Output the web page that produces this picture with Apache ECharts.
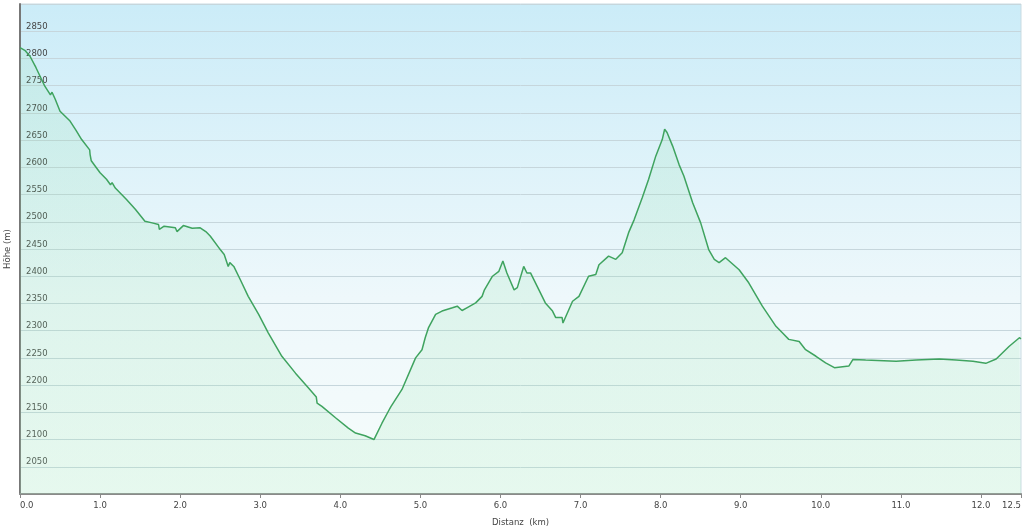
<!DOCTYPE html>
<html>
<head>
<meta charset="utf-8">
<script src="https://cdn.jsdelivr.net/npm/echarts@6/dist/echarts.min.js"></script>
<style>
  html, body { margin: 0; padding: 0; background: #fff; }
  #chart { width: 1024px; height: 527px; }
</style>
</head>
<body>
<div id="chart"></div>
<script>
// Höhenprofil: Distanz (km) / Höhe (m)
const distKm = [
  0.00, 0.06, 0.125, 0.2, 0.31, 0.38, 0.40, 0.44, 0.5, 0.625, 0.7, 0.77, 0.87, 0.875, 0.89, 0.94,
  1.0, 1.08, 1.13, 1.15, 1.19, 1.33, 1.44, 1.56, 1.65, 1.73, 1.74, 1.80, 1.94, 1.96,
  2.04, 2.15, 2.25, 2.32, 2.375, 2.48, 2.5, 2.55, 2.6, 2.62, 2.67, 2.75, 2.85, 2.98,
  3.1, 3.27, 3.44, 3.6, 3.7, 3.71, 3.77, 3.94,
  4.1, 4.19, 4.31, 4.42, 4.44, 4.52, 4.6, 4.63, 4.77, 4.94,
  5.02, 5.06, 5.1, 5.19, 5.27, 5.4, 5.46, 5.52, 5.58, 5.69, 5.77, 5.8, 5.9, 5.98,
  6.03, 6.08, 6.17, 6.21, 6.29, 6.33, 6.375, 6.48, 6.56, 6.65, 6.69, 6.77, 6.78, 6.9, 6.98,
  7.1, 7.19, 7.23, 7.35, 7.44, 7.52, 7.6, 7.67, 7.77, 7.85, 7.94,
  8.02, 8.05, 8.08, 8.15, 8.23, 8.29, 8.4, 8.5, 8.6, 8.67, 8.73, 8.81, 8.98,
  9.1, 9.27, 9.44, 9.52, 9.6, 9.73, 9.81, 9.94,
  10.06, 10.17, 10.35, 10.4, 10.56, 10.94, 11.19, 11.48, 11.69, 11.9,
  12.06, 12.19, 12.35, 12.48, 12.5
];
const elevM = [
  2820, 2815, 2804, 2783, 2749, 2733, 2738, 2725, 2703, 2685, 2668, 2651, 2632, 2624, 2612, 2602,
  2590, 2578, 2568, 2572, 2562, 2541, 2523, 2501, 2498, 2495, 2486, 2492, 2489, 2482,
  2493, 2488, 2489, 2482, 2474, 2453, 2449, 2440, 2418, 2425, 2418, 2394, 2363, 2330,
  2296, 2253, 2222, 2195, 2178, 2167, 2161, 2140,
  2121, 2112, 2107, 2100, 2098, 2130, 2152, 2160, 2192, 2250,
  2265, 2287, 2305, 2330, 2336, 2342, 2345, 2337, 2342, 2351, 2363, 2375, 2400, 2409,
  2428, 2406, 2375, 2379, 2418, 2406, 2406, 2375, 2351, 2336, 2324, 2324, 2314, 2354, 2363,
  2400, 2403, 2421, 2437, 2431, 2443, 2480, 2504, 2544, 2578, 2621,
  2651, 2670, 2664, 2639, 2605, 2584, 2535, 2498, 2449, 2431, 2425, 2434, 2412,
  2388, 2345, 2308, 2296, 2284, 2280, 2265, 2253,
  2241, 2232, 2235, 2247, 2246, 2244, 2246, 2248, 2246, 2244,
  2240, 2248, 2271, 2287, 2285
];
const xTicks = [0, 1, 2, 3, 4, 5, 6, 7, 8, 9, 10, 11, 12, 12.5];

const points = distKm.map((d, i) => [d, elevM[i]]);

const chart = echarts.init(document.getElementById('chart'));
const labelFont = { fontFamily: 'DejaVu Sans', fontSize: 8.5, color: '#444' };

chart.setOption({
  animation: false,
  grid: {
    show: true,
    left: 20,
    right: 3,
    top: 4,
    bottom: 33,
    outerBoundsMode: 'none',
    containLabel: false,
    borderColor: '#c9dbe2',
    borderWidth: 1,
    backgroundColor: new echarts.graphic.LinearGradient(0, 0, 0, 1, [
      { offset: 0, color: '#cbecf8' },
      { offset: 0.6, color: '#eef8fb' },
      { offset: 1, color: '#f6fcfb' }
    ])
  },
  xAxis: {
    type: 'value',
    min: 0,
    max: 12.5,
    name: 'Distanz  (km)',
    nameLocation: 'middle',
    nameGap: 24,
    nameTextStyle: labelFont,
    axisLine: { lineStyle: { color: '#8a8a8a', width: 2 } },
    axisTick: { show: true, length: 4, customValues: xTicks, lineStyle: { color: '#8a8a8a' } },
    axisLabel: Object.assign({
      customValues: xTicks,
      margin: 7,
      formatter: v => v.toFixed(1),
      alignMinLabel: 'left',
      alignMaxLabel: 'right'
    }, labelFont),
    splitLine: { show: false }
  },
  yAxis: {
    type: 'value',
    min: 2000,
    max: 2900,
    interval: 50,
    name: 'Höhe (m)',
    nameLocation: 'middle',
    nameGap: 2,
    nameRotate: 90,
    nameTextStyle: labelFont,
    axisLine: { show: true, lineStyle: { color: '#777', width: 2 } },
    axisTick: { show: false },
    axisLabel: Object.assign({
      inside: true,
      margin: 6,
      verticalAlign: 'bottom',
      showMinLabel: false,
      showMaxLabel: false,
      formatter: v => String(v)
    }, labelFont),
    splitLine: { show: true, lineStyle: { color: '#c6d6dc', width: 1 } }
  },
  series: [{
    name: 'Höhe',
    type: 'line',
    data: points,
    symbol: 'none',
    lineStyle: { color: '#3fa35f', width: 1.5 },
    areaStyle: {
      color: new echarts.graphic.LinearGradient(0, 0, 0, 1, [
        { offset: 0, color: 'rgba(120,215,150,0.2)' },
        { offset: 1, color: 'rgba(170,235,190,0.3)' }
      ])
    }
  }]
});
</script>
</body>
</html>
